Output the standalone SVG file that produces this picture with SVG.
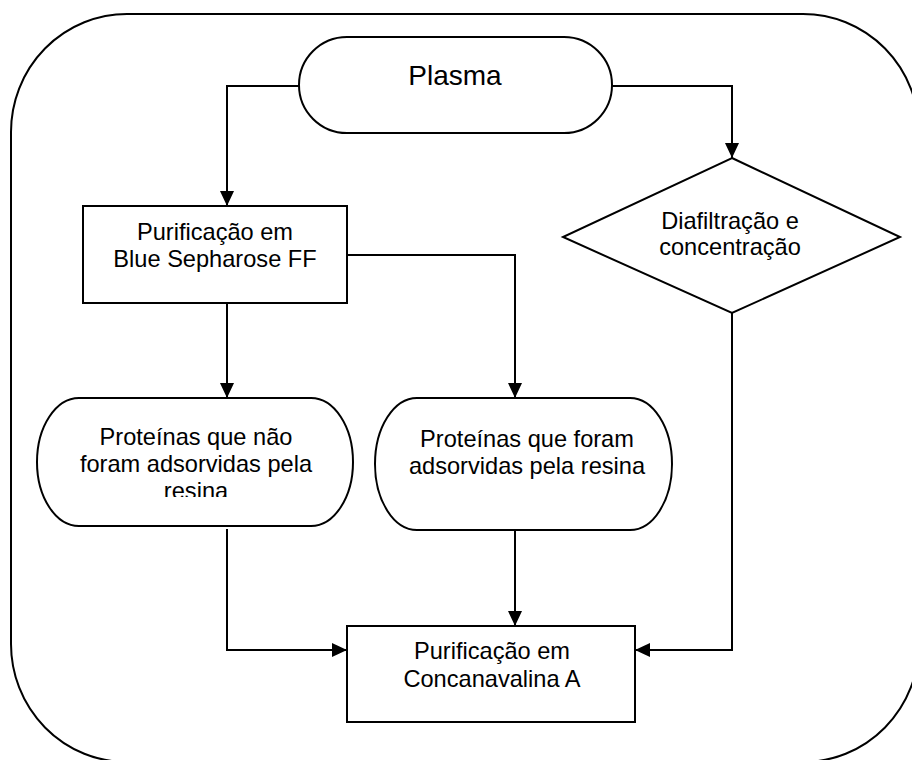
<svg xmlns="http://www.w3.org/2000/svg" width="912" height="760" viewBox="0 0 912 760">
<style>
.s{fill:#fff;stroke:#000;stroke-width:2}
.c{fill:none;stroke:#000;stroke-width:2}
.t{font-family:"Liberation Sans",Arial,sans-serif;font-size:23.6px;fill:#000;text-anchor:middle}
.big{font-size:28px}
</style>
<defs>
<marker id="ah" markerUnits="userSpaceOnUse" markerWidth="15" markerHeight="14" refX="15" refY="7" orient="auto">
<path d="M0,0 L15,7 L0,14 z" fill="#000"/>
</marker>
<clipPath id="clipL"><rect x="37" y="398" width="316" height="99"/></clipPath>
</defs>
<rect id="frame" x="11" y="14" width="908" height="748" rx="116" ry="118" fill="#fff" stroke="#000" stroke-width="2"/>
<g id="connectors">
<path class="c" d="M299,86 H227 V206" marker-end="url(#ah)"/>
<path class="c" d="M612,86 H732 V158" marker-end="url(#ah)"/>
<path class="c" d="M227,303 V398" marker-end="url(#ah)"/>
<path class="c" d="M347,255 H515 V398" marker-end="url(#ah)"/>
<path class="c" d="M227,529 V650 H347" marker-end="url(#ah)"/>
<path class="c" d="M515,530 V626" marker-end="url(#ah)"/>
<path class="c" d="M732,313 V650 H635" marker-end="url(#ah)"/>
</g>
<g id="plasma">
<rect class="s" x="299" y="37" width="313" height="96" rx="48" ry="48"/>
<text class="t big" x="455" y="85">Plasma</text>
</g>
<g id="blue-sepharose">
<rect class="s" x="83" y="206" width="264" height="97"/>
<text class="t" x="215" y="240">Purificação em</text>
<text class="t" x="215" y="267">Blue Sepharose FF</text>
</g>
<g id="diafiltracao">
<polygon class="s" points="732,158 900,237 732,313 563,237"/>
<text class="t" x="730" y="229">Diafiltração e</text>
<text class="t" x="730" y="255">concentração</text>
</g>
<g id="nao-adsorvidas">
<rect class="s" x="37" y="398" width="316" height="128" rx="42" ry="64"/>
<g clip-path="url(#clipL)">
<text class="t" x="196" y="445">Proteínas que não</text>
<text class="t" x="196" y="472">foram adsorvidas pela</text>
<text class="t" x="196" y="499">resina</text>
</g>
</g>
<g id="adsorvidas">
<rect class="s" x="375" y="398" width="297" height="132" rx="42" ry="66"/>
<text class="t" x="527" y="447">Proteínas que foram</text>
<text class="t" x="527" y="474">adsorvidas pela resina</text>
</g>
<g id="concanavalina">
<rect class="s" x="347" y="626" width="288" height="96"/>
<text class="t" x="492" y="659">Purificação em</text>
<text class="t" x="492" y="687">Concanavalina A</text>
</g>
</svg>
